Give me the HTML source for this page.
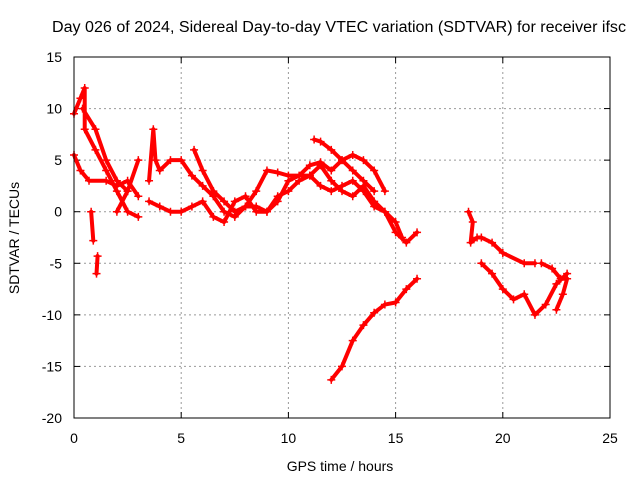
<!DOCTYPE html>
<html><head><meta charset="utf-8"><style>
body{margin:0;background:#fff;}
svg text{font-family:"Liberation Sans",sans-serif;font-size:14px;fill:#000;}
</style></head><body>
<svg id="chart" width="640" height="480" xmlns="http://www.w3.org/2000/svg">
<rect width="640" height="480" fill="#fff"/>
<text x="52" y="32" textLength="574" lengthAdjust="spacingAndGlyphs" style="font-size:15.5px">Day 026 of 2024, Sidereal Day-to-day VTEC variation (SDTVAR) for receiver ifsc</text>
<g id="grid"></g>
<g id="ticks"></g>
<g id="series"></g>
<rect x="74" y="57" width="536" height="361" fill="none" stroke="#000" stroke-width="1"/>
<text x="340" y="471" text-anchor="middle">GPS time / hours</text>
<text transform="translate(19,238) rotate(-90)" text-anchor="middle">SDTVAR / TECUs</text>
</svg>
<script>
const xTicks=[0,5,10,15,20,25];
const yTicks=[15,10,5,0,-5,-10,-15,-20];
const track1=[[0,9.5],[0.3,11],[0.5,12],[0.5,8],[1,6],[1.5,4],[2,2],[2.5,0],[3,-0.5]];
const track2=[[0,5.5],[0.3,4],[0.7,3],[1.5,3],[2,2.5],[2.5,3],[3,1.5]];
const track3=[[0.4,10],[1,8],[1.5,5],[2,3],[2.5,2]];
const track4=[[3,5],[2.5,2],[2,0]];
const track5=[[3.5,3],[3.7,8],[3.8,5],[4,4],[4.5,5],[5,5],[5.5,3.5],[6,2.5],[6.5,1.5],[7,0],[7.5,-0.5],[8,0.5],[8.5,2],[9,4],[9.5,3.8],[10,3.5],[11,3.5],[11.5,4.5],[12,3],[12.5,2],[13,1.5],[13.5,2.5],[14,1],[14.5,0],[15,-2],[15.5,-3],[16,-2]];
const track6=[[3.5,1],[4,0.5],[4.5,0],[5,0],[5.5,0.5],[6,1],[6.5,-0.5],[7,-1],[7.5,1],[8,1.5],[8.5,0],[9,0],[9.5,1],[10,3],[10.5,3.5],[11,4.5],[11.5,4.8],[12,4],[12.5,5],[13,5.5],[13.5,5],[14,4],[14.5,2]];
const track7=[[5.6,6],[6,4],[6.5,2],[7,1],[7.5,0],[8,0.5],[8.5,0.5],[9,0],[9.5,1.5],[10,2],[10.5,3],[11,3.5],[11.5,2.5],[12,2],[12.5,2.5],[13,3],[13.5,2],[14,0.5],[14.5,0],[15,-1],[15.3,-2.5]];
const track8=[[11.2,7],[11.5,6.8],[12,6],[12.5,5],[13,4],[13.5,3],[14,2]];
const track9=[[12,-16.3],[12.5,-15],[13,-12.5],[13.5,-11],[14,-9.8],[14.5,-9],[15,-8.8],[15.5,-7.5],[16,-6.5]];
const track10=[[0.8,0],[0.9,-2.8]];
const track11=[[1.1,-4.3],[1.05,-6]];
const track12=[[18.4,0],[18.6,-1],[18.5,-3],[18.8,-2.5],[19,-2.5],[19.5,-3],[20,-4],[21,-5],[21.5,-5]];
const track13=[[19,-5],[19.5,-6],[20,-7.5],[20.5,-8.5],[21,-8],[21.5,-10],[22,-9],[22.5,-7],[23,-6]];
const track14=[[21.8,-5],[22.3,-5.5],[22.7,-6.5],[23,-6.5],[22.8,-8],[22.5,-9.5]];
const tracks=[track1,track2,track3,track4,track5,track6,track7,track8,track9,track10,track11,track12,track13,track14];
const X0=74,X1=610,Y0=57,Y1=418;
const xs=v=>X0+(v-0)/25*(X1-X0);
const ys=v=>Y1-(v+20)/35*(Y1-Y0);
const NS='http://www.w3.org/2000/svg';
const grid=document.getElementById('grid'),ticks=document.getElementById('ticks'),series=document.getElementById('series');
function mk(t,a,p){const e=document.createElementNS(NS,t);for(const k in a)e.setAttribute(k,a[k]);p.appendChild(e);return e;}
xTicks.forEach(v=>{const x=xs(v);
 if(v>0&&v<25){const g=mk('line',{x1:x,x2:x,y1:Y0,y2:Y1,stroke:'#999','stroke-dasharray':'2,3','stroke-width':1},grid);
 
 }
 mk('line',{x1:x,x2:x,y1:Y1,y2:Y1-6,stroke:'#000'},ticks);mk('line',{x1:x,x2:x,y1:Y0,y2:Y0+6,stroke:'#000'},ticks);
 const t=mk('text',{x:x,y:443,'text-anchor':'middle'},ticks);t.textContent=v;
 
 });
yTicks.forEach(v=>{const y=ys(v);
 if(v>-20&&v<15){const g=mk('line',{x1:X0,x2:X1,y1:y,y2:y,stroke:'#999','stroke-dasharray':'2,3','stroke-width':1},grid);
 
 }
 mk('line',{x1:X0,x2:X0+6,y1:y,y2:y,stroke:'#000'},ticks);mk('line',{x1:X1,x2:X1-6,y1:y,y2:y,stroke:'#000'},ticks);
 const t=mk('text',{x:62,y:y+5,'text-anchor':'end'},ticks);t.textContent=v;
 
 });
tracks.forEach((tr,i)=>{
 const pl=mk('polyline',{points:tr.map(p=>xs(p[0])+','+ys(p[1])).join(' '),fill:'none',stroke:'#f00','stroke-width':4,'stroke-linejoin':'round','stroke-linecap':'round'},series);
 
 
 tr.forEach(p=>{const x=xs(p[0]),y=ys(p[1]);
  const m=mk('path',{d:`M${x-4},${y}H${x+4}M${x},${y-4}V${y+4}`,stroke:'#f00','stroke-width':1.5},series);
  
  });
});
</script>
</body></html>
